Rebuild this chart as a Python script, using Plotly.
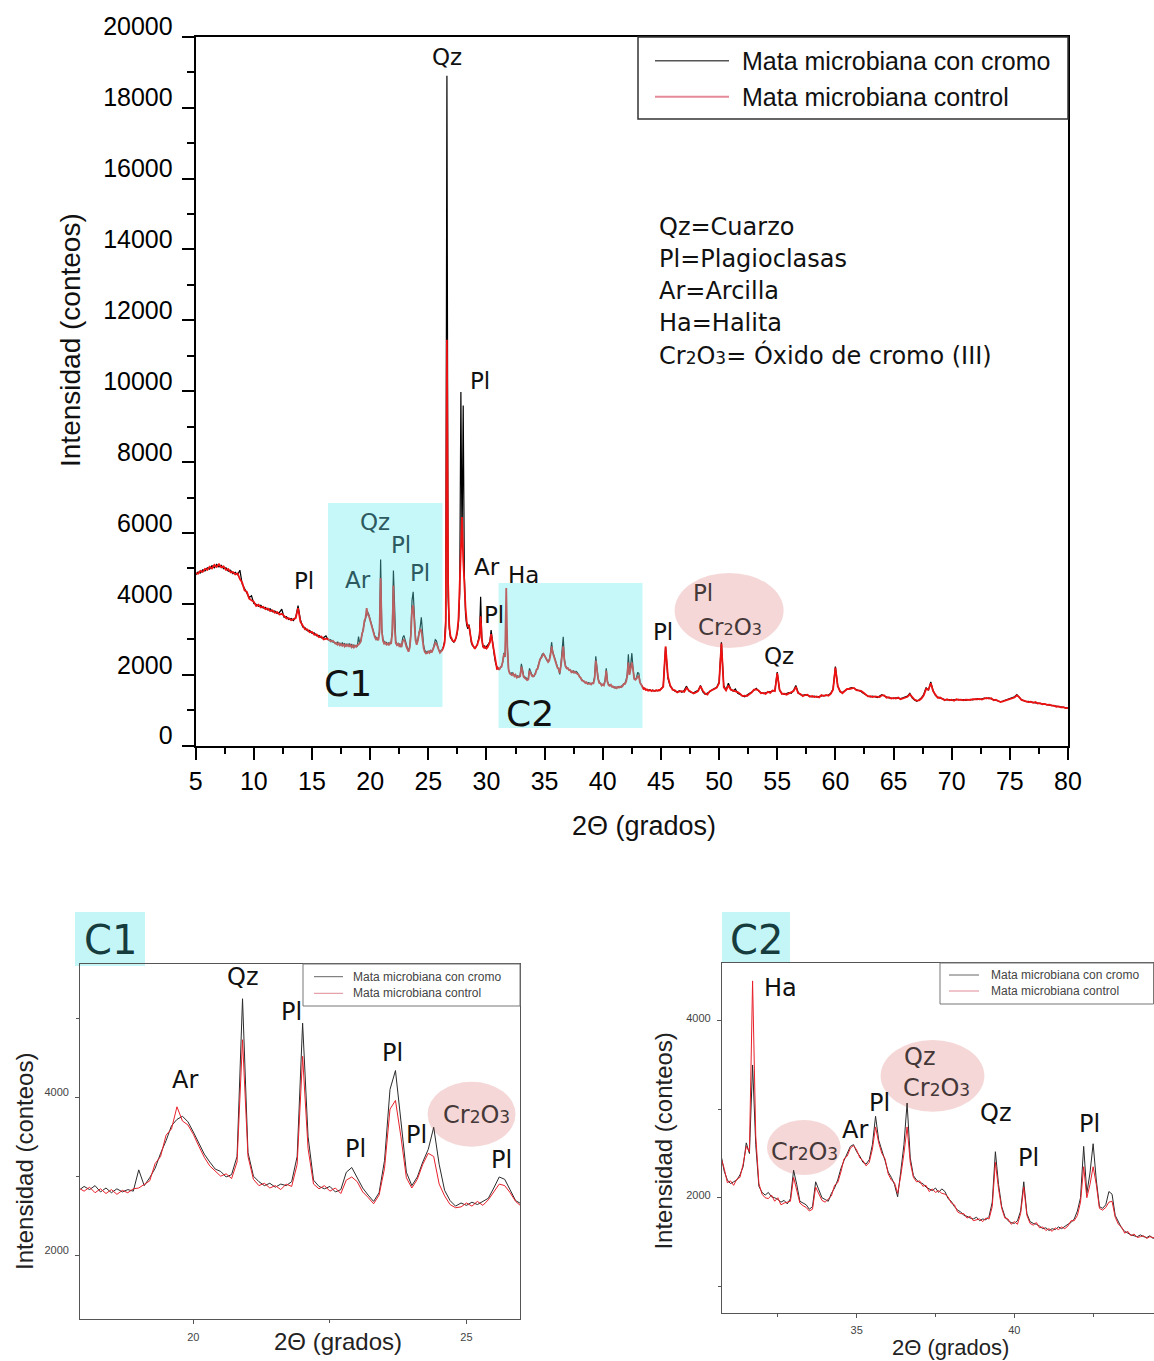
import numpy as np
import plotly.graph_objects as go

W, H = 1154, 1361

# ---------------- data (2theta scan, counts) ----------------
# segment A: 5.0 - 16.8 deg, step 0.2 (rows = 1 degree)
cromo_a_rows = [
    [4820, 4900, 4870, 4960, 4930],
    [5020, 4980, 5080, 5020, 5110],
    [5040, 5090, 4990, 5020, 4920],
    [4950, 4850, 4890, 4820, 4950],
    [4560, 4420, 4300, 4180, 4230],
    [4010, 3990, 3930, 3960, 3880],
    [3900, 3830, 3860, 3780, 3800],
    [3730, 3760, 3850, 3620, 3640],
    [3560, 3590, 3530, 3620, 3950],
    [3560, 3350, 3330, 3240, 3250],
    [3170, 3180, 3100, 3110, 3040],
    [3050, 3100, 2980, 2990, 2920],
]
control_a_rows = [
    [4870, 4850, 4930, 4900, 4990],
    [4960, 5050, 5000, 5100, 5040],
    [5120, 5030, 5060, 4960, 4980],
    [4890, 4900, 4830, 4860, 4700],
    [4600, 4380, 4340, 4150, 4100],
    [4060, 3940, 3980, 3900, 3920],
    [3850, 3870, 3800, 3820, 3750],
    [3770, 3700, 3720, 3660, 3590],
    [3600, 3540, 3570, 3600, 3880],
    [3500, 3390, 3280, 3280, 3200],
    [3210, 3130, 3140, 3060, 3080],
    [3000, 3020, 3010, 2940, 2960],
]
# segment B: 17.0 - 44.9 deg, step 0.1
cromo_b_rows = [
    [2910, 2870, 2930, 2860, 2890, 2840, 2900, 2850, 2880, 2820],
    [2870, 2830, 2880, 2800, 2850, 2790, 2840, 2800, 2830, 2810],
    [3080, 2880, 2980, 3100, 3290, 3450, 3640, 3720, 3760, 3690],
    [3560, 3420, 3280, 3180, 3090, 3060, 2990, 3020, 3250, 5250],
    [3300, 3000, 2930, 2880, 2910, 2860, 2900, 2880, 2930, 3250],
    [4940, 3500, 2950, 2870, 2840, 2870, 2800, 2830, 3050, 3110],
    [2980, 2850, 2760, 2680, 2790, 3200, 4100, 4340, 3700, 3050],
    [2880, 2990, 3180, 3340, 3620, 3150, 2820, 2690, 2620, 2660],
    [2630, 2670, 2640, 2680, 2720, 2850, 2990, 2960, 2830, 2690],
    [2650, 2680, 2720, 2800, 2950, 3600, 18900, 4200, 3300, 3050],
    [2980, 2950, 2920, 2980, 3050, 3200, 3500, 4300, 9980, 5600],
    [9600, 4800, 3700, 3400, 3300, 3420, 3050, 2900, 2820, 2790],
    [2760, 2780, 2850, 2980, 3150, 4200, 3050, 2780, 2820, 2760],
    [2800, 2830, 2880, 2950, 3260, 3000, 2700, 2480, 2300, 2200],
    [2160, 2180, 2200, 2260, 2350, 2620, 2500, 3500, 2600, 2130],
    [2060, 2030, 2060, 2010, 2000, 1980, 1950, 1970, 1930, 1990],
    [2310, 2150, 1960, 1940, 1920, 1870, 1900, 2180, 2090, 2000],
    [1980, 1960, 2050, 2110, 2200, 2330, 2420, 2500, 2580, 2600],
    [2520, 2470, 2400, 2380, 2430, 2600, 2920, 2650, 2540, 2420],
    [2290, 2230, 2150, 2010, 2300, 2600, 3070, 2450, 2250, 2200],
    [2170, 2160, 2120, 2100, 2080, 2110, 2060, 2100, 2070, 1990],
    [1960, 1900, 1860, 1840, 1800, 1790, 1770, 1760, 1780, 1740],
    [1760, 1750, 1790, 1950, 2520, 2150, 1900, 1790, 1740, 1720],
    [1710, 1740, 1850, 2180, 1820, 1730, 1710, 1700, 1680, 1650],
    [1660, 1630, 1650, 1640, 1670, 1650, 1680, 1700, 1720, 1760],
    [1850, 2000, 2580, 2050, 2280, 2610, 2200, 1900, 1880, 1920],
    [2070, 2040, 1800, 1720, 1660, 1620, 1600, 1580, 1570, 1560],
    [1580, 1560, 1550, 1570, 1540, 1560, 1550, 1560, 1550, 1570],
]
control_b_rows = [
    [2880, 2900, 2850, 2890, 2830, 2870, 2820, 2860, 2800, 2850],
    [2810, 2860, 2790, 2840, 2780, 2830, 2770, 2820, 2790, 2840],
    [2850, 2900, 2940, 3160, 3250, 3520, 3600, 3880, 3700, 3650],
    [3530, 3380, 3240, 3130, 3060, 3000, 3030, 2970, 3180, 4730],
    [3250, 2960, 2880, 2910, 2850, 2880, 2830, 2900, 2870, 3150],
    [4520, 3350, 2900, 2840, 2880, 2810, 2850, 2780, 2950, 2990],
    [2930, 2800, 2730, 2650, 2760, 3100, 3850, 3960, 3500, 2980],
    [2850, 2960, 3150, 3290, 3250, 2900, 2750, 2640, 2600, 2610],
    [2660, 2620, 2680, 2630, 2700, 2800, 2900, 2880, 2790, 2680],
    [2620, 2660, 2700, 2780, 2900, 3400, 11450, 4600, 3400, 3100],
    [3000, 2960, 2940, 2960, 3080, 3250, 3600, 4700, 5600, 6450],
    [5250, 4300, 3900, 3500, 3350, 3380, 3100, 2950, 2850, 2760],
    [2730, 2800, 2830, 2950, 3050, 3650, 3000, 2800, 2760, 2790],
    [2740, 2780, 2850, 2920, 3150, 2950, 2680, 2450, 2330, 2170],
    [2190, 2140, 2210, 2230, 2380, 2580, 2520, 4450, 2700, 2160],
    [2040, 2000, 1990, 2030, 1960, 2000, 1920, 1940, 1950, 1960],
    [2230, 2100, 1940, 1910, 1890, 1850, 1870, 2120, 2050, 1970],
    [1950, 1990, 2020, 2140, 2170, 2290, 2440, 2470, 2560, 2590],
    [2540, 2450, 2420, 2360, 2400, 2550, 2800, 2620, 2500, 2440],
    [2270, 2200, 2170, 2050, 2250, 2500, 2800, 2400, 2230, 2180],
    [2190, 2130, 2140, 2070, 2100, 2060, 2080, 2050, 2040, 2010],
    [1940, 1920, 1840, 1820, 1820, 1770, 1790, 1740, 1750, 1760],
    [1730, 1770, 1760, 1900, 2400, 2100, 1880, 1770, 1760, 1700],
    [1730, 1700, 1820, 2120, 1800, 1710, 1690, 1720, 1660, 1670],
    [1630, 1650, 1620, 1660, 1640, 1670, 1650, 1680, 1740, 1740],
    [1800, 1950, 2350, 2000, 2150, 2350, 2150, 1880, 1860, 1890],
    [1950, 1960, 1780, 1700, 1670, 1600, 1620, 1570, 1590, 1550],
    [1560, 1570, 1540, 1560, 1550, 1540, 1570, 1550, 1570, 1560],
]
# segment C: 45.0 - 80.0 deg, step 0.2
cromo_c_rows = [
    [1590, 1680, 2780, 1900, 1680], [1600, 1540, 1520, 1550, 1510],
    [1560, 1680, 1540, 1500, 1490], [1530, 1560, 1700, 1520, 1450],
    [1480, 1520, 1580, 1620, 1650], [1800, 2920, 1700, 1580, 1760],
    [1600, 1540, 1600, 1480, 1450], [1420, 1380, 1430, 1470, 1520],
    [1560, 1620, 1540, 1500, 1470], [1490, 1500, 1520, 1540, 1560],
    [2080, 1560, 1480, 1450, 1470], [1500, 1480, 1560, 1700, 1500],
    [1440, 1420, 1440, 1410, 1400], [1380, 1400, 1370, 1390, 1410],
    [1420, 1410, 1430, 1480, 1600], [2230, 1700, 1520, 1500, 1550],
    [1590, 1620, 1640, 1610, 1580], [1570, 1530, 1480, 1430, 1400],
    [1380, 1400, 1380, 1360, 1400], [1440, 1400, 1370, 1350, 1340],
    [1330, 1350, 1340, 1330, 1350], [1370, 1400, 1480, 1350, 1290],
    [1250, 1300, 1350, 1450, 1640], [1560, 1800, 1560, 1420, 1370],
    [1340, 1310, 1300, 1290, 1300], [1280, 1300, 1290, 1310, 1290],
    [1300, 1280, 1300, 1310, 1290], [1310, 1330, 1300, 1320, 1340],
    [1330, 1350, 1320, 1300, 1280], [1250, 1240, 1260, 1280, 1300],
    [1330, 1350, 1380, 1440, 1360], [1300, 1270, 1240, 1250, 1230],
    [1220, 1210, 1200, 1190, 1180], [1170, 1160, 1150, 1140, 1120],
    [1110, 1100, 1090, 1080, 1070], [1060],
]
control_c_rows = [
    [1600, 1660, 2800, 1950, 1700], [1580, 1560, 1500, 1530, 1540],
    [1520, 1630, 1560, 1520, 1470], [1500, 1540, 1680, 1550, 1470],
    [1440, 1540, 1560, 1600, 1640], [1760, 2880, 1650, 1560, 1700],
    [1580, 1560, 1520, 1510, 1470], [1400, 1410, 1400, 1450, 1500],
    [1580, 1590, 1560, 1480, 1490], [1460, 1520, 1490, 1560, 1540],
    [2050, 1580, 1460, 1470, 1440], [1480, 1510, 1540, 1660, 1480],
    [1460, 1400, 1430, 1440, 1380], [1400, 1370, 1390, 1360, 1430],
    [1400, 1430, 1410, 1460, 1580], [2200, 1680, 1540, 1480, 1530],
    [1600, 1600, 1620, 1630, 1570], [1550, 1550, 1500, 1450, 1390],
    [1400, 1370, 1390, 1380, 1370], [1420, 1420, 1350, 1370, 1330],
    [1350, 1330, 1360, 1310, 1340], [1350, 1380, 1450, 1370, 1300],
    [1270, 1280, 1330, 1420, 1600], [1580, 1760, 1540, 1440, 1350],
    [1360, 1320, 1280, 1310, 1280], [1300, 1270, 1310, 1290, 1300],
    [1280, 1300, 1290, 1290, 1310], [1300, 1310, 1320, 1300, 1330],
    [1350, 1330, 1340, 1280, 1300], [1260, 1230, 1250, 1270, 1310],
    [1310, 1340, 1360, 1420, 1370], [1290, 1280, 1250, 1230, 1240],
    [1210, 1230, 1190, 1200, 1170], [1180, 1150, 1160, 1130, 1130],
    [1100, 1110, 1080, 1090, 1060], [1070],
]

series_names = ["Mata microbiana con cromo", "Mata microbiana control"]
key_lines = ["Qz=Cuarzo", "Pl=Plagioclasas", "Ar=Arcilla", "Ha=Halita",
             "CRO= Óxido de cromo (III)"]
main_xticks = list(range(5, 81, 5))
main_yticks = list(range(0, 20001, 2000))


def flat(rows):
    return [v for r in rows for v in r]


cromo_a, control_a = flat(cromo_a_rows), flat(control_a_rows)
cromo_b, control_b = flat(cromo_b_rows), flat(control_b_rows)
cromo_c, control_c = flat(cromo_c_rows), flat(control_c_rows)
assert len(cromo_a) == len(control_a) == 60
assert len(cromo_b) == len(control_b) == 280
assert len(cromo_c) == len(control_c) == 176

theta = np.concatenate([
    np.round(5.0 + 0.2 * np.arange(len(cromo_a)), 2),
    np.round(17.0 + 0.1 * np.arange(len(cromo_b)), 2),
    np.round(45.0 + 0.2 * np.arange(len(cromo_c)), 2),
])
cromo = np.array(cromo_a + cromo_b + cromo_c)
control = np.array(control_a + control_b + control_c)

# ---------------- figure ----------------
fig = go.Figure()

SANS = "Liberation Sans, Arial, sans-serif"
DEJA = "DejaVu Sans, Verdana, sans-serif"


def px(x):
    return x / W


def py(y):
    return 1 - y / H


styles = {
    "main": [dict(color="#000000", width=1.2), dict(color="#ee1111", width=1.8)],
    "inset": [dict(color="#2b2b2b", width=1.0), dict(color="#e8202a", width=1.0)],
}
for xa, ya, st in [("x", "y", "main"), ("x2", "y2", "inset"), ("x3", "y3", "inset")]:
    for name, yv, ln in zip(series_names, [cromo, control], styles[st]):
        fig.add_trace(go.Scatter(x=theta, y=yv, mode="lines", name=name,
                                 line=ln, xaxis=xa, yaxis=ya, showlegend=False,
                                 hoverinfo="skip"))


def axis_common(color, lw, tlen, tw, fsize, fcolor):
    return dict(showline=True, linecolor=color, linewidth=lw, mirror=True,
                ticks="outside", ticklen=tlen, tickwidth=tw, tickcolor=color,
                showgrid=False, zeroline=False, tickformat="d", automargin=False,
                tickfont=dict(family=SANS, size=fsize, color=fcolor))


main_ax = axis_common("black", 2, 12, 2, 25, "black")
ins_ax = axis_common("#555555", 1.3, 4, 1, 11, "#444444")

fig.update_layout(
    width=W, height=H, autosize=False, margin=dict(l=0, r=0, t=0, b=0, pad=0),
    paper_bgcolor="white", plot_bgcolor="rgba(0,0,0,0)", showlegend=False,
    xaxis=dict(domain=[px(195.7), px(1068)], range=[5, 80], anchor="y",
               tickvals=main_xticks, ticklabelstandoff=0,
               minor=dict(dtick=2.5, tick0=0, ticks="outside", ticklen=6,
                          tickwidth=2, tickcolor="black"), **main_ax),
    yaxis=dict(domain=[py(745.7), py(36.7)], range=[0, 20000], anchor="x",
               tickvals=main_yticks, ticklabelshift=-10, ticklabelstandoff=4,
               minor=dict(dtick=1000, tick0=0, ticks="outside", ticklen=7,
                          tickwidth=2, tickcolor="black"), **main_ax),
    xaxis2=dict(domain=[px(80.3), px(520)], range=[17.93, 25.98], anchor="y2",
                dtick=5, tick0=0, ticklabelstandoff=3,
                minor=dict(dtick=2.5, tick0=0, ticks="outside", ticklen=3,
                           tickcolor="#555555"), **ins_ax),
    yaxis2=dict(domain=[py(1319.3), py(964.3)], range=[1185, 5687], anchor="x2",
                dtick=2000, tick0=0, ticklabelshift=-5, ticklabelstandoff=4,
                minor=dict(dtick=1000, tick0=0, ticks="outside", ticklen=3,
                           tickcolor="#555555"), **ins_ax),
    xaxis3=dict(domain=[px(722), 1.0], range=[30.73, 44.43], anchor="y3",
                dtick=5, tick0=0, ticklabelstandoff=2,
                minor=dict(dtick=2.5, tick0=0, ticks="outside", ticklen=3,
                           tickcolor="#555555"), **ins_ax),
    yaxis3=dict(domain=[py(1313.3), py(963.3)], range=[694, 4649], anchor="x3",
                dtick=2000, tick0=0, ticklabelshift=-3, ticklabelstandoff=4,
                minor=dict(dtick=1000, tick0=0, ticks="outside", ticklen=3,
                           tickcolor="#555555"), **ins_ax),
)


def rect(x0, y0, x1, y1, fill=None, line_color=None, lw=0, layer="above", kind="rect"):
    fig.add_shape(type=kind, xref="paper", yref="paper",
                  x0=px(x0), x1=px(x1), y0=py(y1), y1=py(y0),
                  fillcolor=fill, layer=layer,
                  line=dict(color=line_color or "rgba(0,0,0,0)", width=lw))


def hline(x0, x1, y, color, lw):
    fig.add_shape(type="line", xref="paper", yref="paper",
                  x0=px(x0), x1=px(x1), y0=py(y), y1=py(y),
                  line=dict(color=color, width=lw))


def text(x, y, s, size, color="#111111", family=DEJA, xanchor="center",
         yanchor="middle", angle=0):
    fig.add_annotation(x=px(x), y=py(y), xref="paper", yref="paper", text=s,
                       showarrow=False, xanchor=xanchor, yanchor=yanchor,
                       textangle=angle, borderpad=0,
                       font=dict(family=family, size=size, color=color))


def cro(sub):
    return (f'Cr<span style="font-size:{sub}px">2</span>'
            f'O<span style="font-size:{sub}px">3</span>')


CYAN = "rgba(100,235,240,0.37)"
PINK = "rgba(230,150,150,0.38)"
TEAL_TXT = "#2d5a60"
PINK_TXT = "#453838"

# highlight boxes on the main pattern
rect(328, 503, 442.5, 707, fill=CYAN)
rect(498.6, 583, 642.5, 728, fill=CYAN)
rect(674.6, 573, 783.6, 648, fill=PINK, layer="below", kind="circle")

# main legend
rect(638, 37, 1068, 119, line_color="#333333", lw=1.5)
hline(655, 729, 60.7, "#555555", 1.5)
hline(655, 729, 96.7, "#e58a98", 2)
text(741, 60.7, series_names[0], 25, family=SANS, xanchor="left")
text(741, 96.7, series_names[1], 25, family=SANS, xanchor="left")

# mineral key
for i, s in enumerate(key_lines):
    if s.startswith("CRO"):
        s = cro(17) + s[3:]
    text(658, 226.7 + 32 * i, s, 24, xanchor="left")

# main peak labels
for (x, y, s, c) in [
    (447, 57, "Qz", "#111111"), (480, 381, "Pl", "#111111"),
    (304, 581, "Pl", "#111111"), (358, 580, "Ar", TEAL_TXT),
    (375, 522, "Qz", TEAL_TXT), (401, 545, "Pl", TEAL_TXT),
    (420, 573, "Pl", TEAL_TXT), (487, 567, "Ar", "#111111"),
    (523, 575, "Ha", "#111111"), (494, 615, "Pl", "#111111"),
    (663, 632, "Pl", "#111111"), (703, 593, "Pl", PINK_TXT),
    (779, 656, "Qz", "#111111"),
]:
    text(x, y, s, 23, color=c)
text(730, 627, cro(16), 23, color=PINK_TXT)
text(348, 683, "C1", 36, color="#111111")
text(530, 713, "C2", 36, color="#111111")

# main axis titles
text(70, 340, "Intensidad (conteos)", 28, color="#111111", family=SANS, angle=-90)
text(644, 826, "2Θ (grados)", 27, color="#111111", family=SANS)

# ---------- inset C1 ----------
rect(75, 912, 145, 966, fill="#c4f6f8", layer="below")
text(110, 940, "C1", 40, color="#163c3e")
rect(303, 964, 520, 1006, line_color="#777777", lw=1)
hline(314, 343, 976.7, "#666666", 1)
hline(314, 343, 993.3, "#e08a95", 1)
text(352, 976.7, series_names[0], 12, color="#444444", family=SANS, xanchor="left")
text(352, 993.3, series_names[1], 12, color="#444444", family=SANS, xanchor="left")
rect(427.6, 1081.7, 515.5, 1146.7, fill=PINK, layer="below", kind="circle")
for (x, y, s) in [(184.5, 1080, "Ar"), (243, 977, "Qz"), (292, 1012, "Pl"),
                  (392, 1053, "Pl"), (355, 1149, "Pl"), (416.6, 1135, "Pl"),
                  (501.7, 1160, "Pl")]:
    text(x, y, s, 24)
text(476, 1115, cro(17), 24, color=PINK_TXT)
text(24, 1162, "Intensidad (conteos)", 24, color="#222222", family=SANS, angle=-90)
text(338, 1341, "2Θ (grados)", 24, color="#222222", family=SANS)

# ---------- inset C2 ----------
rect(722, 912, 790, 963, fill="#c4f6f8", layer="below")
text(756, 940, "C2", 40, color="#163c3e")
rect(940, 963, 1153.5, 1004, line_color="#777777", lw=1)
hline(949, 979, 975, "#666666", 1)
hline(949, 979, 991, "#e08a95", 1)
text(990, 975, series_names[0], 12, color="#444444", family=SANS, xanchor="left")
text(990, 991, series_names[1], 12, color="#444444", family=SANS, xanchor="left")
rect(767, 1120, 840.7, 1175, fill=PINK, layer="below", kind="circle")
rect(880.6, 1040, 984.4, 1111.7, fill=PINK, layer="below", kind="circle")
for (x, y, s) in [(780, 988, "Ha"), (855, 1130, "Ar"), (879.5, 1103, "Pl"),
                  (996.4, 1113, "Qz"), (1028.7, 1158, "Pl"), (1089.4, 1124, "Pl")]:
    text(x, y, s, 24)
text(804, 1151.7, cro(17), 24, color=PINK_TXT)
text(919.7, 1056.7, "Qz", 24, color=PINK_TXT)
text(936.8, 1088.3, cro(17), 24, color=PINK_TXT)
text(662.6, 1141, "Intensidad (conteos)", 24, color="#222222", family=SANS, angle=-90)
text(950, 1347, "2Θ (grados)", 22, color="#222222", family=SANS)

fig.write_html("out.html")
